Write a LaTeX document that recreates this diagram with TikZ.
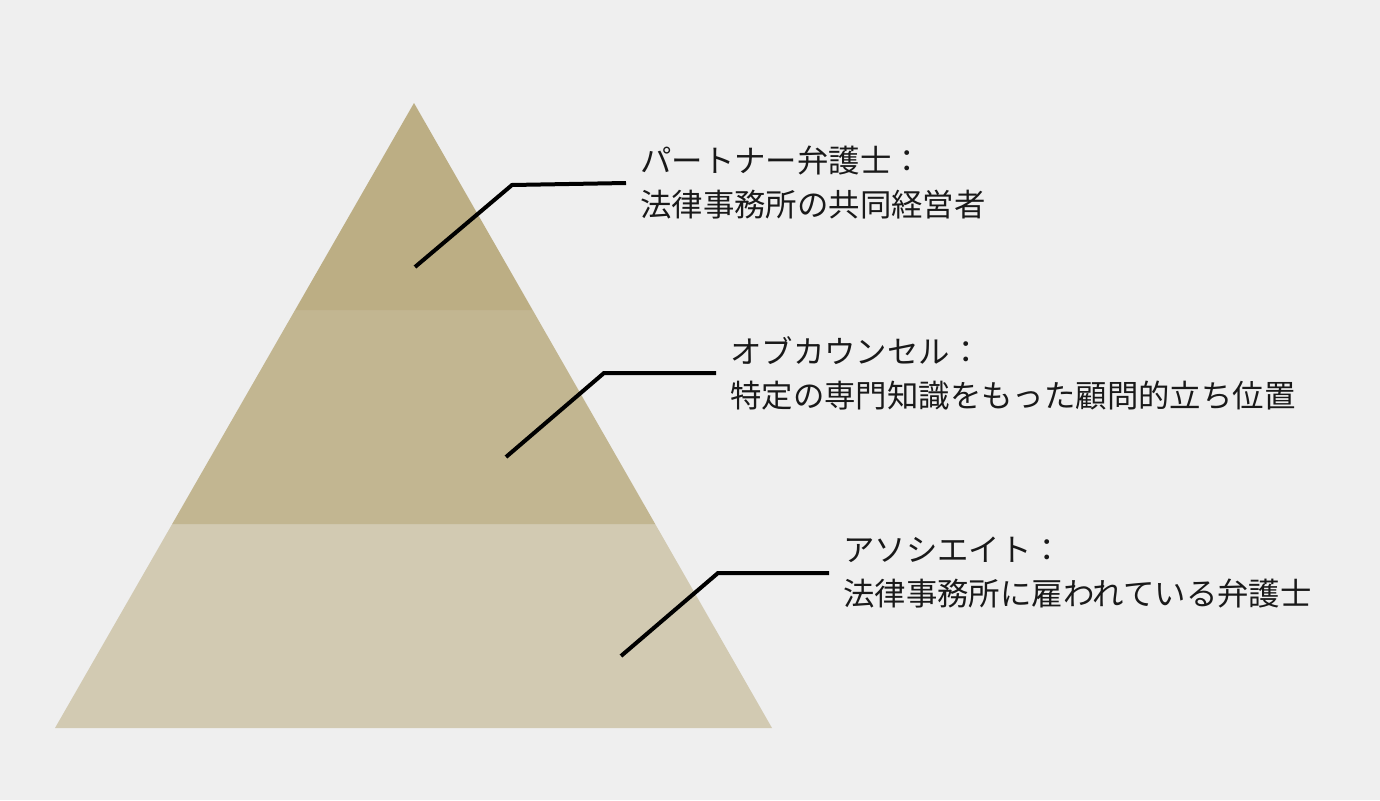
\documentclass[tikz,border=0pt]{standalone}
\usepackage{fontspec}
\setmainfont{Noto Sans CJK JP}
\usepackage{tikz}
\usetikzlibrary{positioning}
\definecolor{bgcol}{RGB}{239,239,239}
\definecolor{topcol}{RGB}{188,174,132}
\definecolor{midcol}{RGB}{194,182,145}
\definecolor{lowcol}{RGB}{210,202,178}
\begin{document}
\begin{tikzpicture}[x=1pt,y=-1pt,
  lead/.style={line width=4pt,black,line join=miter},
  lbl/.style={anchor=west,align=left,inner xsep=14pt,inner ysep=0pt,
    font=\fontsize{31.4}{44}\selectfont,text=black!90}]
% \draw[help lines] (0,0) grid (1380,800);
\fill[bgcol] (0,0) rectangle (1380,800);
\useasboundingbox (0,0) rectangle (1380,800);
%
\fill[lowcol] (172.2,524) -- (655.2,524) -- (772,728) -- (55,728) -- cycle;
\fill[midcol] (295.1,310) -- (532.6,310) -- (655.2,524) -- (172.2,524) -- cycle;
\fill[topcol] (414,103) -- (532.6,310) -- (295.1,310) -- cycle;
%
\coordinate (d1) at (415,267);
\coordinate (e1) at (512,185);
\coordinate (d2) at (506,457);
\coordinate (e2) at (604,373);
\coordinate (d3) at (621,656);
\coordinate (e3) at (718,573);
%
\node (t1) [lbl] at (626,183) {パートナー弁護士：\\法律事務所の共同経営者};
\node (t2) [lbl] at (716,373) {オブカウンセル：\\特定の専門知識をもった顧問的立ち位置};
\node (t3) [lbl] at (829,573) {アソシエイト：\\法律事務所に雇われている弁護士};
%
\draw[lead] (d1) -- (e1) -- (t1.west);
\draw[lead] (d2) -- (e2) -- (t2.west);
\draw[lead] (d3) -- (e3) -- (t3.west);
\end{tikzpicture}
\end{document}
